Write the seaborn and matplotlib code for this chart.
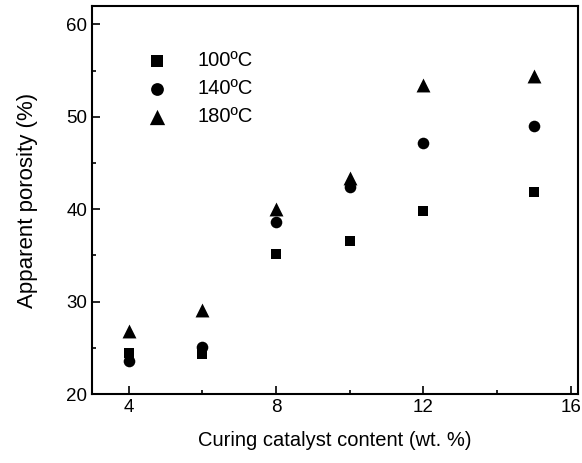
import pandas as pd
import numpy as np
import matplotlib
matplotlib.use("Agg")
import matplotlib.pyplot as plt
import seaborn as sns
from matplotlib.ticker import MultipleLocator

# Data
catalyst = [4, 6, 8, 10, 12, 15]
por_100 = [24.4, 24.3, 35.2, 36.6, 39.8, 41.9]
por_140 = [23.6, 25.1, 38.6, 42.4, 47.2, 49.0]
por_180 = [26.8, 29.1, 40.0, 43.4, 53.4, 54.4]
labels = ["100ºC", "140ºC", "180ºC"]
markers = ["s", "o", "^"]
msizes = [52, 70, 100]

sns.set_style("ticks")
plt.rcParams["font.family"] = ["Liberation Sans", "DejaVu Sans"]
plt.rcParams["text.color"] = "black"
plt.rcParams["axes.labelcolor"] = "black"
plt.rcParams["xtick.color"] = "black"
plt.rcParams["ytick.color"] = "black"

fig = plt.figure(figsize=(5.82, 4.63), dpi=100)
ax = fig.add_axes([0.158, 0.149, 0.835, 0.838])

for vals, lab, mk, sz in zip([por_100, por_140, por_180], labels, markers, msizes):
    sns.scatterplot(x=catalyst, y=vals, marker=mk, s=sz, color="black",
                    linewidth=0, label=lab, ax=ax)

ax.set_xlim(3, 16.2)
ax.set_ylim(20, 62)
ax.xaxis.set_major_locator(MultipleLocator(4))
ax.xaxis.set_minor_locator(MultipleLocator(2))
ax.yaxis.set_major_locator(MultipleLocator(10))
ax.yaxis.set_minor_locator(MultipleLocator(5))
ax.tick_params(which="both", direction="in", labelsize=13.5, width=1.2,
               top=False, right=False)
ax.tick_params(which="major", length=6)
ax.tick_params(which="minor", length=3)
for sp in ax.spines.values():
    sp.set_linewidth(1.5)
    sp.set_color("black")
    sp.set_visible(True)

ax.set_xlabel("Curing catalyst content (wt. %)", fontsize=14.5, labelpad=11)
ax.set_ylabel("Apparent porosity (%)", fontsize=16, labelpad=20)

leg = ax.legend(loc="upper left", bbox_to_anchor=(0.055, 0.93), frameon=False,
                fontsize=14.5, handletextpad=1.0, labelspacing=0.45,
                markerscale=1.1)

fig.savefig("out.png", dpi=100)
